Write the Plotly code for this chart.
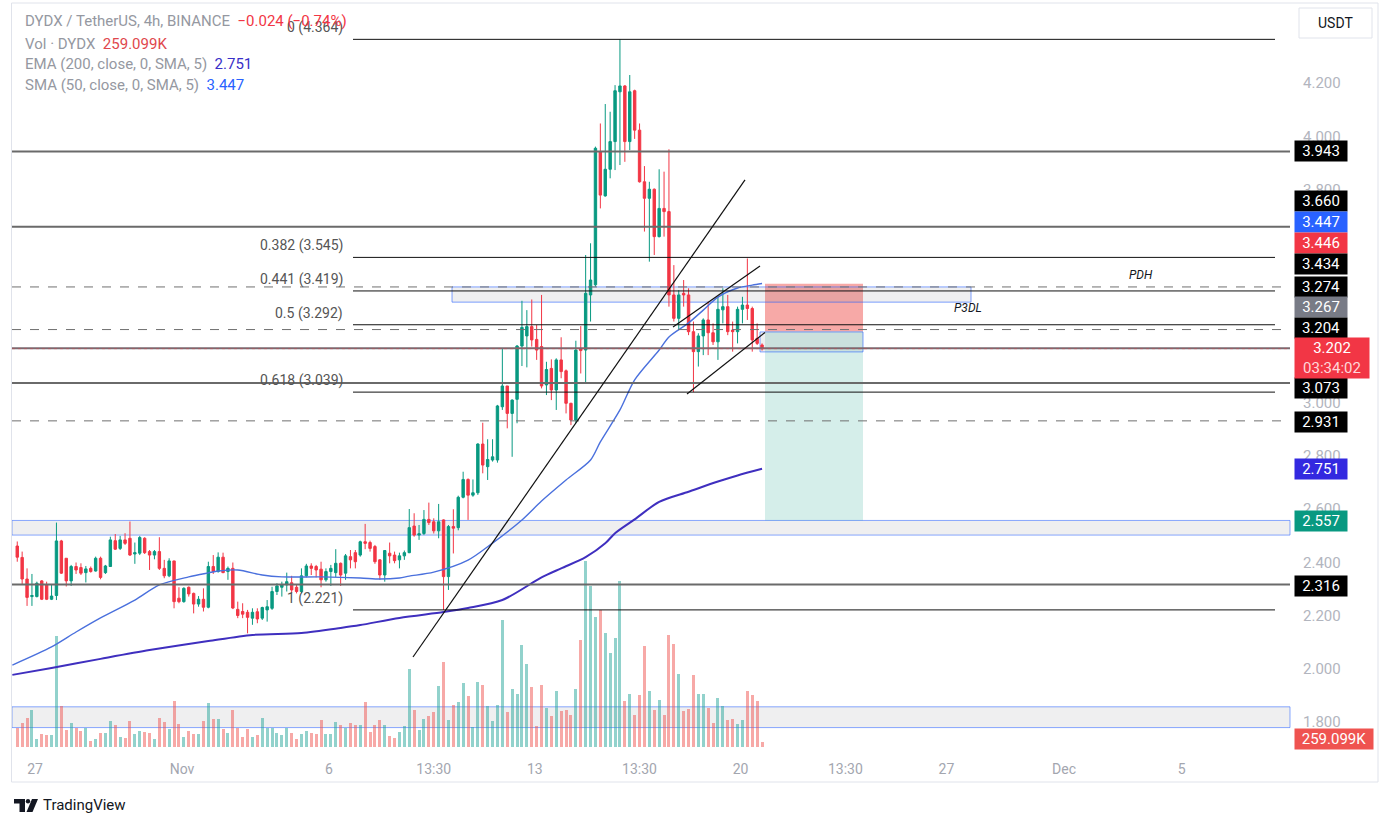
import pandas as pd
import plotly.graph_objects as go

# ---------------- data ----------------
START = "2023-10-26 09:30"   # first 4h candle (exchange time shown +05:30)

OPEN = [2.461, 2.418, 2.337, 2.271, 2.271, 2.330, 2.315, 2.261, 2.275, 2.480,
        2.415, 2.330, 2.384, 2.380, 2.361, 2.377, 2.367, 2.415, 2.361, 2.384,
        2.481, 2.452, 2.484, 2.490, 2.431, 2.434, 2.490, 2.440, 2.427, 2.440,
        2.377, 2.349, 2.405, 2.265, 2.252, 2.306, 2.283, 2.243, 2.261, 2.231,
        2.384, 2.365, 2.419, 2.365, 2.377, 2.223, 2.215, 2.212, 2.190, 2.214,
        2.190, 2.221, 2.227, 2.290, 2.306, 2.315, 2.323, 2.306, 2.290, 2.349,
        2.386, 2.384, 2.374, 2.334, 2.365, 2.361, 2.396, 2.359, 2.421, 2.436,
        2.427, 2.477, 2.474, 2.459, 2.409, 2.352, 2.434, 2.427, 2.409, 2.424,
        2.436, 2.536, 2.502, 2.508, 2.561, 2.552, 2.518, 2.559, 2.346, 2.534,
        2.530, 2.644, 2.711, 2.652, 2.661, 2.844, 2.759, 2.784, 2.784, 2.984,
        3.062, 2.959, 3.012, 3.212, 3.250, 3.285, 3.237, 3.210, 3.066, 3.128,
        3.047, 3.160, 3.119, 2.997, 2.934, 3.203, 3.197, 3.404, 3.442, 3.942,
        3.776, 3.876, 3.980, 4.167, 4.189, 3.980, 4.171, 4.023, 3.829, 3.767,
        3.801, 3.623, 3.729, 3.717, 3.404, 3.316, 3.410, 3.404, 3.266, 3.191,
        3.250, 3.310, 3.262, 3.228, 3.348, 3.360, 3.272, 3.266, 3.350, 3.366,
        3.353, 3.241, 3.216]

HIGH = [2.478, 2.440, 2.377, 2.356, 2.327, 2.333, 2.327, 2.317, 2.549, 2.484,
        2.415, 2.390, 2.399, 2.396, 2.386, 2.384, 2.421, 2.421, 2.390, 2.496,
        2.506, 2.499, 2.509, 2.553, 2.474, 2.499, 2.494, 2.446, 2.446, 2.494,
        2.409, 2.415, 2.405, 2.306, 2.306, 2.309, 2.286, 2.273, 2.302, 2.402,
        2.427, 2.437, 2.436, 2.384, 2.399, 2.252, 2.246, 2.221, 2.227, 2.227,
        2.233, 2.258, 2.308, 2.321, 2.327, 2.361, 2.349, 2.315, 2.377, 2.394,
        2.396, 2.390, 2.402, 2.377, 2.390, 2.449, 2.399, 2.431, 2.446, 2.446,
        2.481, 2.544, 2.481, 2.465, 2.411, 2.446, 2.474, 2.440, 2.436, 2.444,
        2.600, 2.584, 2.540, 2.596, 2.624, 2.565, 2.619, 2.561, 2.540, 2.599,
        2.650, 2.740, 2.715, 2.711, 2.847, 2.924, 2.862, 2.862, 2.991, 3.203,
        3.062, 3.012, 3.216, 3.382, 3.347, 3.387, 3.291, 3.404, 3.153, 3.162,
        3.166, 3.245, 3.124, 2.999, 3.232, 3.287, 3.554, 3.598, 3.961, 4.048,
        4.121, 4.092, 4.192, 4.364, 4.192, 4.230, 4.175, 4.048, 3.888, 3.829,
        3.804, 3.876, 3.867, 3.951, 3.516, 3.422, 3.460, 3.429, 3.304, 3.260,
        3.316, 3.379, 3.297, 3.397, 3.429, 3.404, 3.304, 3.360, 3.397, 3.541,
        3.360, 3.297, 3.222]

LOW = [2.402, 2.315, 2.236, 2.236, 2.268, 2.258, 2.258, 2.258, 2.258, 2.356,
       2.309, 2.311, 2.356, 2.352, 2.324, 2.361, 2.365, 2.336, 2.356, 2.384,
       2.446, 2.446, 2.465, 2.424, 2.394, 2.427, 2.431, 2.371, 2.411, 2.371,
       2.340, 2.344, 2.227, 2.246, 2.248, 2.271, 2.208, 2.233, 2.215, 2.227,
       2.356, 2.361, 2.359, 2.334, 2.224, 2.190, 2.190, 2.133, 2.165, 2.171,
       2.183, 2.177, 2.221, 2.277, 2.271, 2.290, 2.283, 2.283, 2.283, 2.343,
       2.352, 2.343, 2.306, 2.327, 2.311, 2.344, 2.311, 2.334, 2.377, 2.377,
       2.421, 2.449, 2.440, 2.394, 2.334, 2.327, 2.396, 2.396, 2.377, 2.409,
       2.434, 2.496, 2.484, 2.502, 2.540, 2.508, 2.490, 2.221, 2.296, 2.433,
       2.520, 2.640, 2.559, 2.646, 2.653, 2.734, 2.709, 2.778, 2.774, 2.972,
       2.903, 2.796, 2.922, 3.137, 3.132, 3.210, 3.160, 3.053, 3.028, 3.009,
       2.972, 3.091, 2.959, 2.915, 2.922, 3.109, 3.072, 3.304, 3.435, 3.729,
       3.773, 3.842, 3.873, 3.892, 3.904, 3.948, 3.990, 3.826, 3.642, 3.529,
       3.554, 3.620, 3.623, 3.360, 3.304, 3.272, 3.360, 3.253, 3.039, 3.135,
       3.178, 3.178, 3.216, 3.160, 3.297, 3.253, 3.191, 3.222, 3.297, 3.310,
       3.191, 3.216, 3.195]

CLOSE = [2.419, 2.337, 2.268, 2.275, 2.321, 2.261, 2.261, 2.273, 2.480, 2.359,
         2.330, 2.384, 2.371, 2.359, 2.375, 2.365, 2.415, 2.343, 2.386, 2.484,
         2.449, 2.484, 2.471, 2.427, 2.436, 2.493, 2.436, 2.427, 2.440, 2.377,
         2.349, 2.405, 2.252, 2.252, 2.302, 2.281, 2.243, 2.261, 2.231, 2.384,
         2.365, 2.419, 2.361, 2.377, 2.228, 2.200, 2.205, 2.193, 2.212, 2.187,
         2.230, 2.233, 2.290, 2.311, 2.315, 2.327, 2.296, 2.290, 2.349, 2.386,
         2.377, 2.371, 2.334, 2.365, 2.377, 2.396, 2.352, 2.424, 2.409, 2.402,
         2.477, 2.471, 2.452, 2.402, 2.352, 2.444, 2.424, 2.406, 2.424, 2.436,
         2.530, 2.502, 2.507, 2.561, 2.549, 2.518, 2.552, 2.346, 2.534, 2.528,
         2.644, 2.711, 2.652, 2.661, 2.844, 2.765, 2.786, 2.796, 2.987, 3.062,
         2.959, 3.009, 3.212, 3.282, 3.285, 3.235, 3.197, 3.062, 3.124, 3.047,
         3.160, 3.116, 2.997, 2.934, 3.197, 3.195, 3.410, 3.460, 3.955, 3.779,
         3.876, 3.980, 4.171, 4.189, 3.980, 4.167, 4.023, 3.829, 3.767, 3.801,
         3.623, 3.729, 3.717, 3.404, 3.316, 3.404, 3.404, 3.266, 3.191, 3.250,
         3.310, 3.262, 3.228, 3.350, 3.360, 3.266, 3.266, 3.350, 3.366, 3.353,
         3.235, 3.222, 3.202]

VOLUME_K = [990, 1250, 1510, 1920, 420, 680, 620, 620, 5770, 2130,
            880, 1250, 990, 830, 990, 310, 420, 730, 730, 1350,
            1140, 520, 470, 1350, 680, 830, 780, 730, 420, 1510,
            1300, 940, 2390, 1200, 520, 830, 680, 680, 1350, 2290,
            1460, 1460, 940, 730, 1920, 990, 520, 940, 520, 620,
            1510, 990, 990, 730, 620, 990, 730, 420, 680, 830,
            730, 680, 1400, 680, 680, 1300, 1140, 990, 1250, 1140,
            1140, 2340, 780, 1140, 1400, 1140, 570, 470, 780, 1090,
            4060, 1920, 880, 1460, 1610, 1820, 3170, 4420, 1400, 2180,
            2340, 3330, 2650, 1040, 3380, 3220, 2130, 1350, 2180, 6600,
            1820, 3020, 2760, 5300, 4320, 3120, 1090, 3220, 2030, 1610,
            2910, 1870, 1920, 1660, 3020, 5560, 9670, 8370, 6760, 7120,
            5930, 4890, 5670, 8630, 2390, 2760, 1660, 2700, 5250, 2910,
            1920, 2440, 1660, 5820, 5360, 3800, 1870, 1980, 3740, 2760,
            2760, 2030, 1250, 2550, 2130, 1400, 1460, 1200, 1400, 2910,
            2700, 2390, 259.099]

# moving averages (candle index -> value)
SMA50_IDX = [-1, 7, 12, 17, 24, 29, 35, 39, 41, 45, 50, 54, 62, 70, 74, 78, 80, 85,
             92, 97, 103, 107, 112, 117, 119, 123, 126, 131, 133, 137, 140, 143, 147, 150, 152]
SMA50_VAL = [2.014, 2.082, 2.138, 2.191, 2.258, 2.315, 2.345, 2.360, 2.367, 2.371, 2.352,
             2.345, 2.345, 2.341, 2.337, 2.341, 2.348, 2.363, 2.408, 2.472, 2.559, 2.630,
             2.709, 2.784, 2.852, 2.972, 3.085, 3.197, 3.246, 3.299, 3.347, 3.396, 3.430,
             3.441, 3.447]
EMA200_IDX = [-1, 7, 17, 27, 39, 48, 58, 66, 70, 78, 87, 92, 99, 107, 111, 116, 120,
              122, 126, 131, 137, 143, 147, 152]
EMA200_VAL = [1.977, 2.003, 2.037, 2.070, 2.104, 2.127, 2.134, 2.153, 2.164, 2.191, 2.213,
              2.228, 2.258, 2.343, 2.377, 2.419, 2.471, 2.509, 2.561, 2.627, 2.665, 2.703,
              2.726, 2.751]

# drawings (time, price)
FIB_LEVELS = ["0", "0.382", "0.441", "0.5", "0.618", "1"]
FIB_PRICES = [4.364, 3.545, 3.419, 3.292, 3.039, 2.221]
FIB_T0, FIB_T1 = "2023-11-06 19:35", "2023-12-08 04:15"
SOLID_LEVELS = [3.943, 3.660, 3.073, 2.316]
DASHED_LEVELS = [3.434, 3.274, 2.931]
PRICE_LINE = 3.204
LAST_PRICE = 3.202
ZONES = [(2.502, 2.557), (1.779, 1.857)]
TRENDLINES = [(("2023-11-08 20:34", 2.044), ("2023-11-20 03:35", 3.836)),
              (("2023-11-17 16:50", 3.284), ("2023-11-20 15:50", 3.513)),
              (("2023-11-18 04:15", 3.032), ("2023-11-20 19:55", 3.263))]
P3DL_BOX = ("2023-11-10 04:25", "2023-11-27 20:05", 3.377, 3.434)
ENTRY_BOX = ("2023-11-20 15:50", "2023-11-24 03:55", 3.190, 3.265)
POS_T0, POS_T1 = "2023-11-20 19:55", "2023-11-24 03:55"
POS_ENTRY, POS_STOP, POS_TARGET = 3.267, 3.446, 2.557
PDH_T = "2023-12-03 14:55"

X_TICKS = ["2023-10-27", "2023-11-01", "2023-11-06", "2023-11-09 13:30", "2023-11-13",
           "2023-11-16 13:30", "2023-11-20", "2023-11-23 13:30", "2023-11-27",
           "2023-12-01", "2023-12-05"]
X_TICKTEXT = ["27", "Nov", "6", "13:30", "13", "13:30", "20", "13:30", "27", "Dec", "5"]
# 3.2 / 3.4 / 3.6 are fully hidden by the price labels in the reference
Y_TICKS = [1.8, 2.0, 2.2, 2.4, 2.6, 2.8, 3.0, 3.8, 4.0, 4.2]

AXIS_LABELS = ["3.943", "3.660", "3.447", "3.446", "3.434", "3.274", "3.267",
               "3.204", "3.073", "2.931", "2.751", "2.557", "2.316"]

# ---------------- styles / layout ----------------
GREEN, RED = "#089981", "#f23645"
FONT = "Roboto, 'Open Sans', sans-serif"
PL, PR, PT, PB = 12, 1290, 5, 750
X_RANGE = ["2023-10-26 05:13", "2023-12-08 16:29"]
Y_RANGE = [1.6948, 4.4930]
VOL_RANGE = [-156, 38584]

def px(x):
    return (x - PL) / (PR - PL)

def py(y):
    return (PB - y) / (PB - PT)

t0 = pd.Timestamp(START)
times = [t0 + pd.Timedelta(hours=4 * i) for i in range(len(OPEN))]
up = [c >= o for o, c in zip(OPEN, CLOSE)]

fig = go.Figure()

fig.add_trace(go.Bar(
    x=times, y=VOLUME_K, yaxis="y",
    marker=dict(color=["rgba(38,166,154,0.5)" if u else "rgba(239,83,80,0.5)" for u in up],
                line=dict(width=0)),
    width=4 * 3600 * 1000 * 0.62, hoverinfo="skip"))

fig.add_trace(go.Scatter(
    x=[t0 + pd.Timedelta(hours=4 * i) for i in EMA200_IDX], y=EMA200_VAL, yaxis="y2",
    mode="lines", line=dict(color="#3f2fbf", width=2, shape="spline", smoothing=0.8),
    hoverinfo="skip"))
fig.add_trace(go.Scatter(
    x=[t0 + pd.Timedelta(hours=4 * i) for i in SMA50_IDX], y=SMA50_VAL, yaxis="y2",
    mode="lines", line=dict(color="#4a70dd", width=1.4, shape="spline", smoothing=0.8),
    hoverinfo="skip"))

fig.add_trace(go.Candlestick(
    x=times, open=OPEN, high=HIGH, low=LOW, close=CLOSE, yaxis="y2",
    increasing=dict(line=dict(color=GREEN, width=1), fillcolor=GREEN),
    decreasing=dict(line=dict(color=RED, width=1), fillcolor=RED),
    whiskerwidth=0, hoverinfo="skip"))

shapes = []
for lo, hi in ZONES:
    shapes.append(dict(type="rect", xref="paper", x0=0, x1=1, yref="y2", y0=lo, y1=hi,
                       fillcolor="rgba(120,123,134,0.12)",
                       line=dict(color="rgba(41,98,255,0.55)", width=1), layer="below"))
shapes.append(dict(type="rect", xref="x", x0=POS_T0, x1=POS_T1, yref="y2", y0=POS_ENTRY, y1=POS_STOP,
                   fillcolor="rgba(239,83,80,0.5)", line=dict(width=0), layer="below"))
shapes.append(dict(type="rect", xref="x", x0=POS_T0, x1=POS_T1, yref="y2", y0=POS_TARGET, y1=POS_ENTRY,
                   fillcolor="rgba(8,153,129,0.17)", line=dict(width=0), layer="below"))
for bx in (P3DL_BOX, ENTRY_BOX):
    shapes.append(dict(type="rect", xref="x", x0=bx[0], x1=bx[1], yref="y2", y0=bx[2], y1=bx[3],
                       fillcolor="rgba(120,123,134,0.12)",
                       line=dict(color="rgba(41,98,255,0.6)", width=1), layer="below"))
for p in SOLID_LEVELS:
    shapes.append(dict(type="line", xref="paper", x0=0, x1=1, yref="y2", y0=p, y1=p,
                       line=dict(color="#6a6a6a", width=2), layer="above"))
shapes.append(dict(type="line", xref="paper", x0=0, x1=1, yref="y2", y0=PRICE_LINE, y1=PRICE_LINE,
                   line=dict(color="#7a6a70", width=2), layer="above"))
shapes.append(dict(type="line", xref="paper", x0=0, x1=1, yref="y2", y0=LAST_PRICE, y1=LAST_PRICE,
                   line=dict(color="rgba(242,54,69,0.35)", width=1, dash="dot"), layer="above"))
for p in DASHED_LEVELS:
    shapes.append(dict(type="line", xref="paper", x0=0, x1=1, yref="y2", y0=p, y1=p,
                       line=dict(color="#707070", width=1, dash="dash"), layer="above"))
for p in FIB_PRICES:
    shapes.append(dict(type="line", xref="x", x0=FIB_T0, x1=FIB_T1, yref="y2", y0=p, y1=p,
                       line=dict(color="#111111", width=1), layer="above"))
for (ta, pa), (tb, pb) in TRENDLINES:
    shapes.append(dict(type="line", xref="x", x0=ta, x1=tb, yref="y2", y0=pa, y1=pb,
                       line=dict(color="#111111", width=1.2), layer="above"))
# outer frame
shapes.append(dict(type="rect", xref="paper", yref="paper", x0=px(11.5), x1=px(1378),
                   y0=py(782), y1=py(3), line=dict(color="#e0e3eb", width=1),
                   fillcolor="rgba(0,0,0,0)", layer="above"))
# USDT button
shapes.append(dict(type="rect", xref="paper", yref="paper", x0=px(1299), x1=px(1372),
                   y0=py(38), y1=py(8), line=dict(color="#e0e3eb", width=1),
                   fillcolor="white", layer="above"))
# TradingView logo
def pth(pts):
    return "M " + " L ".join(f"{px(a)},{py(b)}" for a, b in pts) + " Z"
shapes.append(dict(type="path", xref="paper", yref="paper",
                   path=pth([(14, 799), (25, 799), (25, 812), (19.5, 812), (19.5, 803.5), (14, 803.5)]),
                   fillcolor="#131722", line=dict(width=0)))
shapes.append(dict(type="circle", xref="paper", yref="paper", x0=px(25.8), x1=px(30.2),
                   y0=py(803.5), y1=py(799), fillcolor="#131722", line=dict(width=0)))
shapes.append(dict(type="path", xref="paper", yref="paper",
                   path=pth([(32, 799), (38, 799), (32.5, 812), (26.5, 812)]),
                   fillcolor="#131722", line=dict(width=0)))

ann = []
for lvl, p in zip(FIB_LEVELS, FIB_PRICES):
    ann.append(dict(xref="x", yref="y2", x=FIB_T0, y=p, xanchor="right", yanchor="bottom",
                    xshift=-8, yshift=1, showarrow=False, text=f"{lvl} ({p:.3f})",
                    font=dict(family=FONT, size=14, color="#555555")))
ann.append(dict(xref="x", yref="y2", x=PDH_T, y=3.434, yanchor="bottom", yshift=3,
                showarrow=False, text="<i>PDH</i>", font=dict(family=FONT, size=12, color="#131722")))
ann.append(dict(xref="x", yref="y2", x=P3DL_BOX[1], y=P3DL_BOX[2], yanchor="top", xshift=-3,
                yshift=3, showarrow=False, text="<i>P3DL</i>",
                font=dict(family=FONT, size=12, color="#131722")))

GRAY = "#9598a1"
legend_lines = [
    (21, "DYDX / TetherUS, 4h, BINANCE  <span style='color:#f23645'>−0.024 (−0.74%)</span>"),
    (44, "Vol · DYDX  <span style='color:#e0474c'>259.099K</span>"),
    (64, "EMA (200, close, 0, SMA, 5)  <span style='color:#3a2fc8'>2.751</span>"),
    (85, "SMA (50, close, 0, SMA, 5)  <span style='color:#2962ff'>3.447</span>"),
]
for yy, txt in legend_lines:
    ann.append(dict(xref="paper", yref="paper", x=px(23), y=py(yy), xanchor="left",
                    yanchor="middle", showarrow=False, text=txt,
                    font=dict(family=FONT, size=15, color=GRAY)))

LABEL_BG = ["#000000", "#000000", "#2962ff", "#f23645", "#000000", "#000000", "#787b86",
            "#000000", "#000000", "#000000", "#3329e0", "#089981", "#000000"]
LABEL_Y = [151, 201, 222, 243, 264, 287, 307, 328, 388, 422, 469, 521, 586]
for txt, bg, yy in zip(AXIS_LABELS, LABEL_BG, LABEL_Y):
    ann.append(dict(xref="paper", yref="paper", x=px(1294), y=py(yy), xanchor="left",
                    yanchor="middle", showarrow=False, text=txt, bgcolor=bg, width=52,
                    height=20, borderpad=0, align="center",
                    font=dict(family=FONT, size=15, color="white")))
ann.append(dict(xref="paper", yref="paper", x=px(1294), y=py(358), xanchor="left",
                yanchor="middle", showarrow=False,
                text=f"{LAST_PRICE:.3f}<br><span style='color:#ffd6d9'>03:34:02</span>",
                bgcolor="#f23645", width=74, height=40, borderpad=0, align="center",
                font=dict(family=FONT, size=15, color="white")))
ann.append(dict(xref="paper", yref="paper", x=px(1294), y=py(739), xanchor="left",
                yanchor="middle", showarrow=False, text=f"{VOLUME_K[-1]:.3f}K",
                bgcolor="#ef5350", width=78, height=20, borderpad=0, align="center",
                font=dict(family=FONT, size=15, color="white")))
ann.append(dict(xref="paper", yref="paper", x=px(1335.5), y=py(23), xanchor="center",
                yanchor="middle", showarrow=False, text="USDT",
                font=dict(family=FONT, size=14, color="#131722")))
ann.append(dict(xref="paper", yref="paper", x=px(41), y=py(805), xanchor="left",
                yanchor="middle", showarrow=False, text="TradingView",
                font=dict(family=FONT, size=15, color="#131722")))

fig.update_layout(
    width=1392, height=827,
    margin=dict(l=PL, r=1392 - PR, t=PT, b=827 - PB),
    paper_bgcolor="white", plot_bgcolor="white",
    showlegend=False, hovermode=False, bargap=0,
    shapes=shapes, annotations=ann,
    xaxis=dict(type="date", range=X_RANGE, showgrid=False, zeroline=False, showline=False,
               tickvals=X_TICKS, ticktext=X_TICKTEXT, ticks="outside", ticklen=6,
               tickcolor="rgba(0,0,0,0)", tickfont=dict(family=FONT, size=14, color="#a3a6af"),
               rangeslider=dict(visible=False), fixedrange=True),
    yaxis=dict(range=VOL_RANGE, visible=False, showgrid=False, zeroline=False, fixedrange=True),
    yaxis2=dict(overlaying="y", side="right", range=Y_RANGE, showgrid=False, zeroline=False,
                showline=False, tickvals=Y_TICKS, ticktext=[f"{v:.3f}" for v in Y_TICKS],
                ticks="outside", ticklen=9, tickcolor="rgba(0,0,0,0)",
                tickfont=dict(family=FONT, size=15, color="#b2b5be"), fixedrange=True),
)

fig.write_html("out.html", config={"displayModeBar": False},
               post_script="document.body.style.margin='0px';")
